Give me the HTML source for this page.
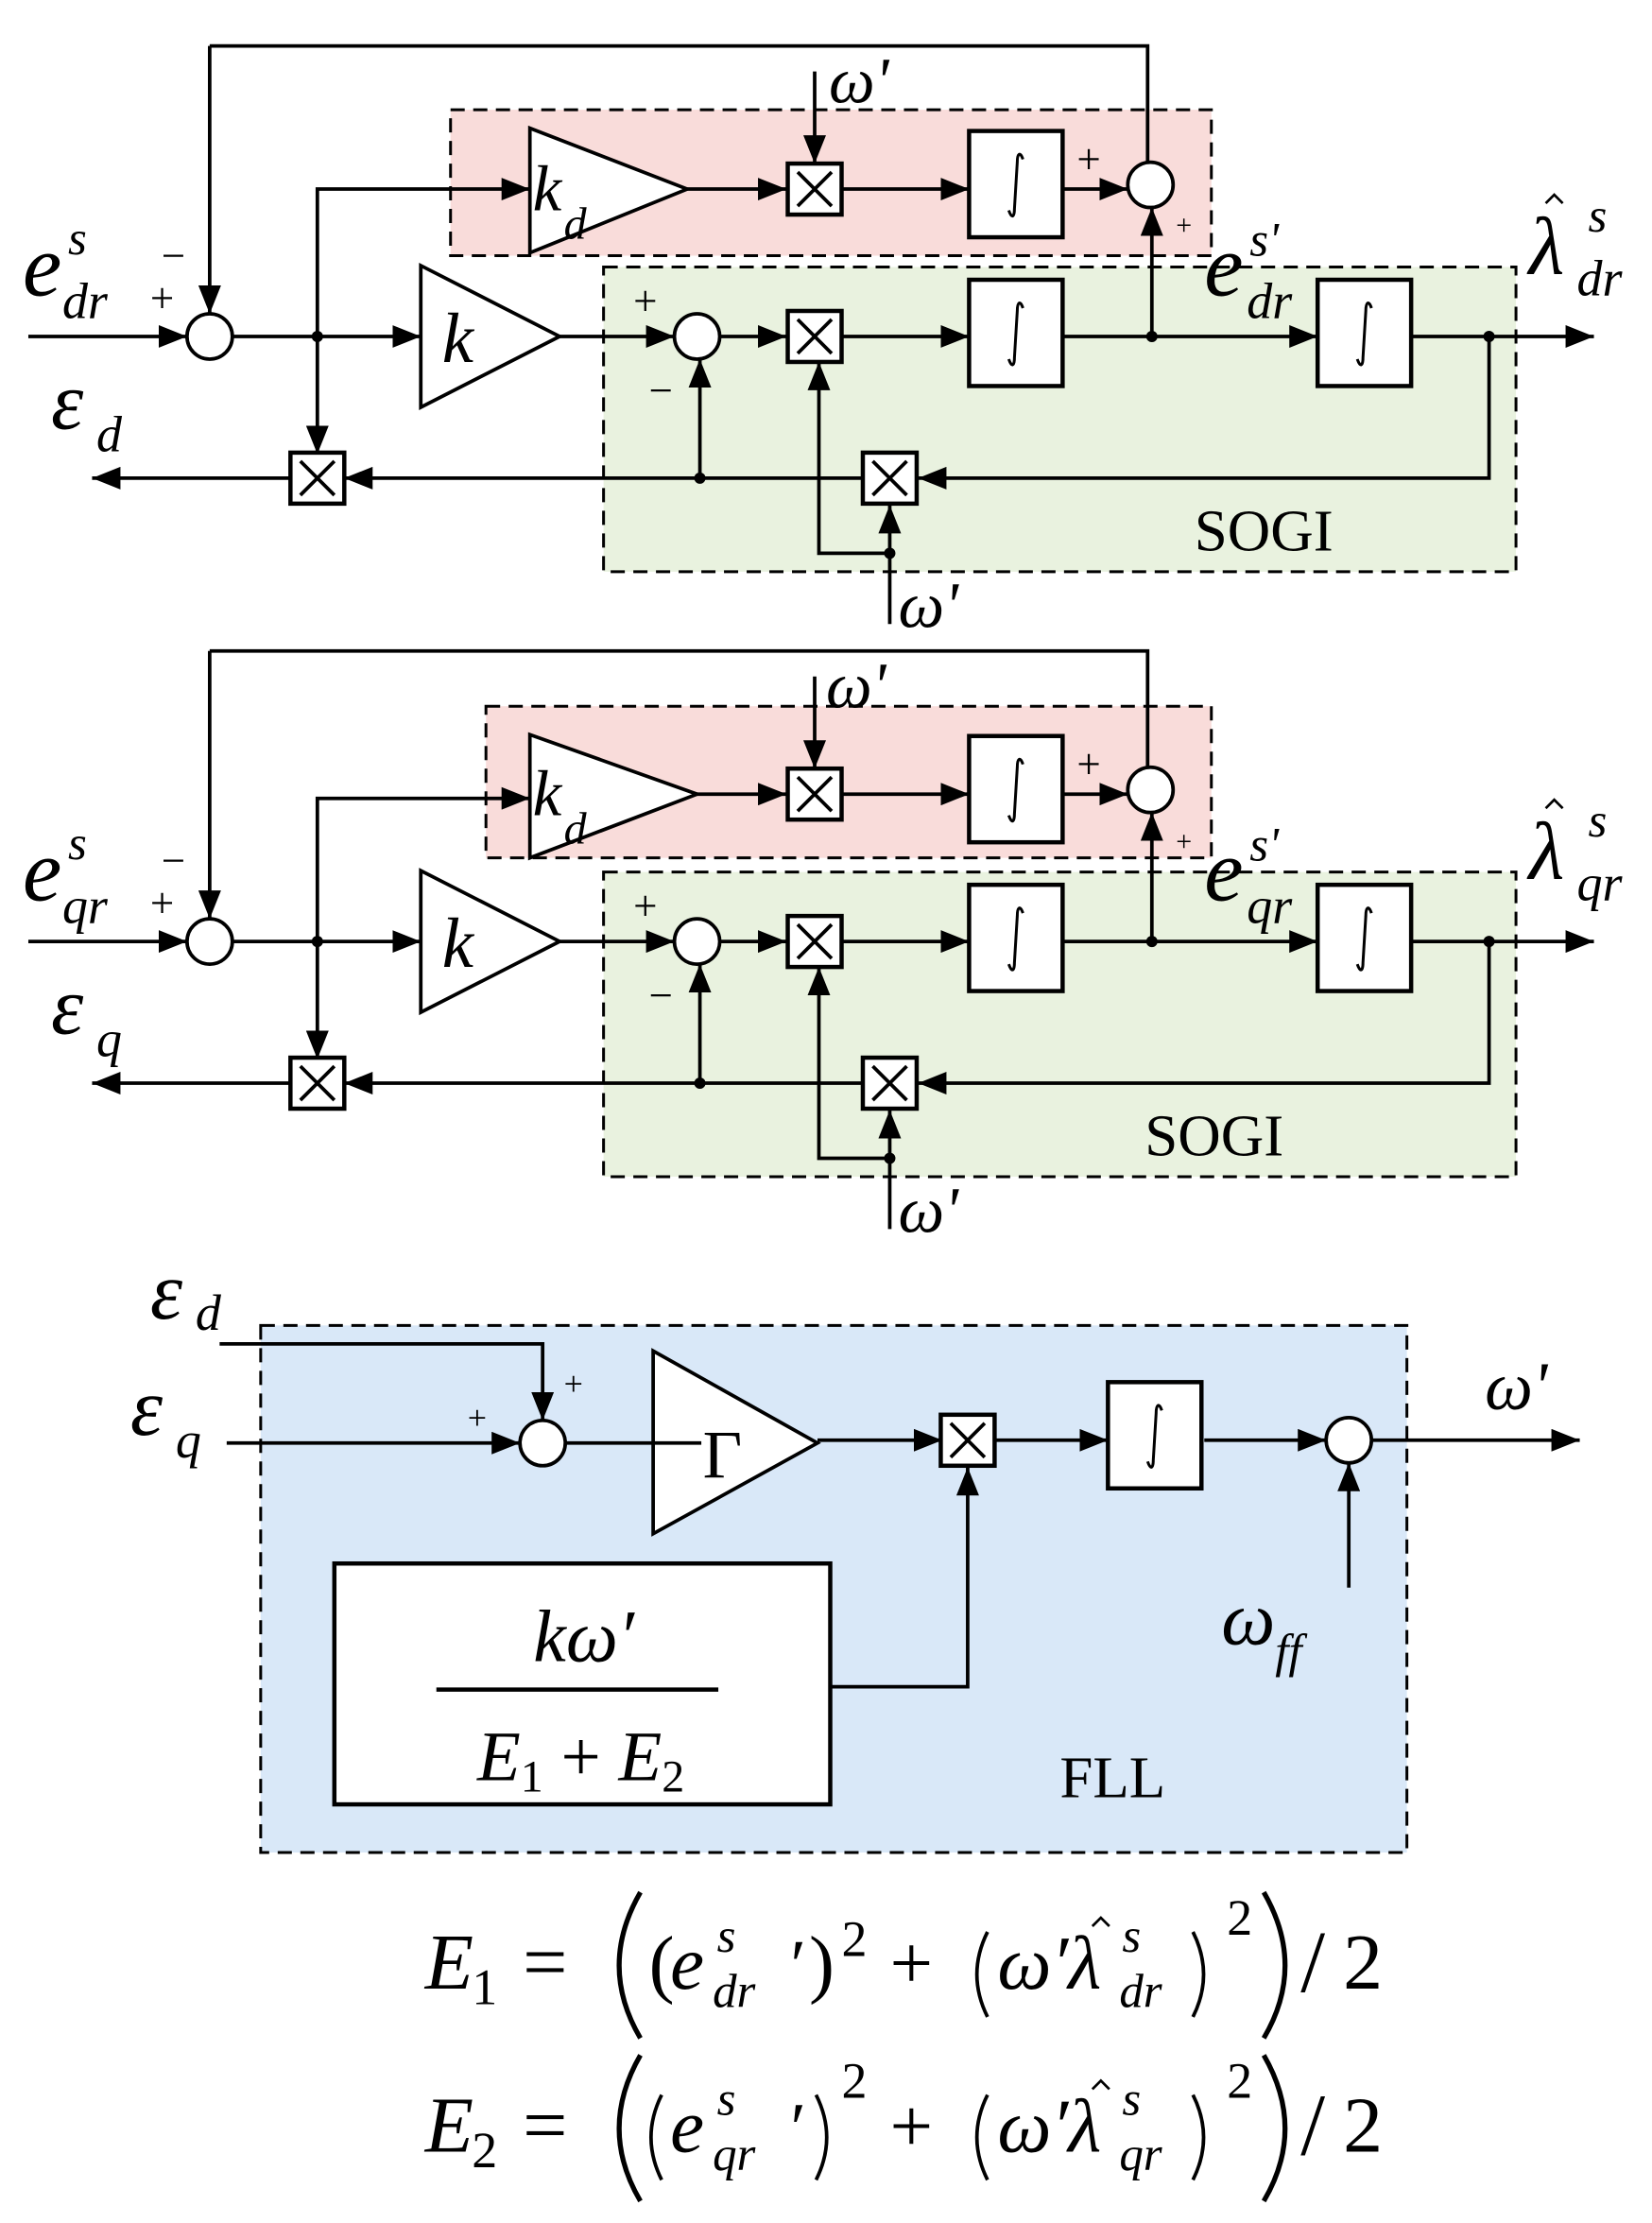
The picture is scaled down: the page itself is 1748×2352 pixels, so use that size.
<!DOCTYPE html>
<html><head><meta charset="utf-8"><style>
html,body{margin:0;padding:0;background:#fff}
svg{display:block}
text{font-family:"Liberation Serif",serif;fill:#000}
.it{font-style:italic}
</style></head><body>
<svg width="1748" height="2352" viewBox="0 0 1166 1568" xmlns="http://www.w3.org/2000/svg">
<defs>
<marker id="A" viewBox="0 0 10 10" refX="10" refY="5" markerWidth="20" markerHeight="16" orient="auto" markerUnits="userSpaceOnUse" preserveAspectRatio="none"><path d="M0,0L10,5L0,10z" fill="#000"/></marker>
<g id="mul"><rect x="-19" y="-18" width="38" height="36" fill="#fff" stroke="#000" stroke-width="3"/><path d="M-12,-12L12,12M12,-12L-12,12" stroke="#000" stroke-width="2.5"/></g>
<g id="int"><rect x="0" y="0" width="66" height="75" fill="#fff" stroke="#000" stroke-width="3"/><path d="M38,20C36,14 34,16 34,22L32,55C32,61 30,62 28,56" fill="none" stroke="#000" stroke-width="2"/></g>
<g id="hat"><path d="M-6,6L0,0L6,6" fill="none" stroke="#000" stroke-width="1.8"/></g>
<g id="sogi" stroke="#000" stroke-width="2.5" fill="none">
<rect x="426" y="188" width="644" height="215" fill="#e9f2df" stroke-dasharray="10,6" stroke-width="2"/>
<path d="M148,32H810V114" />
<path d="M148,32V221" marker-end="url(#A)"/>
<path d="M20,237H132" marker-end="url(#A)"/>
<circle cx="148" cy="237" r="16" fill="#fff"/>
<path d="M164,237H297" marker-end="url(#A)"/>
<path d="M224,237V320" marker-end="url(#A)"/>
<polygon points="297,187 297,287 395,237" fill="#fff"/>
<path d="M395,237H476" marker-end="url(#A)"/>
<circle cx="492" cy="237" r="16" fill="#fff"/>
<path d="M508,237H555" marker-end="url(#A)"/>
<path d="M595,237H684" marker-end="url(#A)"/>
<path d="M750,237H930" marker-end="url(#A)"/>
<path d="M813,237V146" marker-end="url(#A)"/>
<path d="M995,237H1125" marker-end="url(#A)"/>
<path d="M1051,237V337H648" marker-end="url(#A)"/>
<path d="M610,337H243" marker-end="url(#A)"/>
<path d="M205,337H65" marker-end="url(#A)"/>
<path d="M494,337V253" marker-end="url(#A)"/>
<path d="M628,390H578V255" marker-end="url(#A)"/>
<path d="M628,440V356" marker-end="url(#A)"/>
<path d="M575,50V115" marker-end="url(#A)"/>
<path d="M485,133H555" marker-end="url(#A)"/>
<path d="M595,133H684" marker-end="url(#A)"/>
<path d="M750,133H796" marker-end="url(#A)"/>
<circle cx="812" cy="130" r="16" fill="#fff"/>
<g fill="#000" stroke="none"><circle cx="224" cy="237" r="4"/><circle cx="813" cy="237" r="4"/><circle cx="1051" cy="237" r="4"/><circle cx="494" cy="337" r="4"/><circle cx="628" cy="390" r="4"/></g>
<use href="#mul" x="575" y="237"/><use href="#mul" x="575" y="133"/><use href="#mul" x="628" y="337"/><use href="#mul" x="224" y="337"/>
<use href="#int" x="684" y="197"/><use href="#int" x="930" y="197"/><use href="#int" x="684" y="92"/>
</g>
<g id="eq">
<text x="300" y="0" class="it" font-size="56">E</text><text x="369" y="0" font-size="56">=</text>
<text x="473" y="0" class="it" font-size="54">e</text><text x="506" y="-26" font-size="34" class="it">s</text>
<text x="558" y="0" font-size="50">′</text><text x="628" y="0" font-size="54">+</text>
<text x="704" y="0" class="it" font-size="54">ω′λ</text><use href="#hat" x="777" y="-50"/><text x="792" y="-26" font-size="34" class="it">s</text>
<text x="866" y="-38" font-size="36">2</text>
<text x="918" y="2" font-size="62">/</text><text x="948" y="0" font-size="56">2</text>
<g fill="none" stroke="#000">
<path d="M452,-68Q422,-16 452,35" stroke-width="3.5"/><path d="M892,-68Q922,-16 892,35" stroke-width="3.5"/>
<path d="M697,-40Q682,-10 697,20" stroke-width="2.5"/><path d="M842,-40Q857,-10 842,20" stroke-width="2.5"/>
</g>
</g>
</defs>

<!-- block 1 -->
<rect x="318" y="77" width="537" height="103" fill="#f9dcda" stroke="#000" stroke-dasharray="10,6" stroke-width="2"/>
<path d="M224,237V133H374" stroke="#000" stroke-width="2.5" fill="none" marker-end="url(#A)"/>
<use href="#sogi"/>
<polygon points="374,90 374,178 485,133" fill="#fff" stroke="#000" stroke-width="2.5"/>
<text x="376" y="148" font-size="46" class="it">k</text><text x="398" y="168" font-size="32" class="it">d</text>
<text x="312" y="255" font-size="50" class="it">k</text>
<text x="16" y="208" font-size="62" class="it">e</text><text x="48" y="179" font-size="34" class="it">s</text><text x="44" y="224" font-size="36" class="it">dr</text>
<text x="1079" y="193" font-size="58" class="it">λ</text><use href="#hat" x="1097" y="137"/><text x="1121" y="163" font-size="34" class="it">s</text><text x="1113" y="208" font-size="36" class="it">dr</text>
<text x="850" y="208" font-size="62" class="it">e</text><text x="882" y="180" font-size="34" class="it">s'</text><text x="880" y="224" font-size="36" class="it">dr</text>
<text x="36" y="302" font-size="58" class="it">ε</text><text x="68" y="318" font-size="36" class="it">d</text>
<text x="843" y="388" font-size="42">SOGI</text>
<text x="585" y="72" font-size="46" class="it">ω'</text>
<text x="634" y="442" font-size="46" class="it">ω'</text>
<g font-size="30"><text x="114" y="190">−</text><text x="106" y="220">+</text><text x="447" y="222">+</text><text x="458" y="285">−</text><text x="760" y="122">+</text><text x="830" y="165" font-size="20">+</text></g>

<!-- block 2 -->
<rect x="343" y="498" width="512" height="107" fill="#f9dcda" stroke="#000" stroke-dasharray="10,6" stroke-width="2"/>
<path d="M224,663V563H374" stroke="#000" stroke-width="2.5" fill="none" marker-end="url(#A)"/>
<use href="#sogi" y="427"/>
<polygon points="374,518 374,605 492,560" fill="#fff" stroke="#000" stroke-width="2.5"/>
<text x="376" y="575" font-size="46" class="it">k</text><text x="398" y="595" font-size="32" class="it">d</text>
<text x="312" y="682" font-size="50" class="it">k</text>
<text x="16" y="635" font-size="62" class="it">e</text><text x="48" y="606" font-size="34" class="it">s</text><text x="44" y="651" font-size="36" class="it">qr</text>
<text x="1079" y="620" font-size="58" class="it">λ</text><use href="#hat" x="1097" y="564"/><text x="1121" y="590" font-size="34" class="it">s</text><text x="1113" y="635" font-size="36" class="it">qr</text>
<text x="850" y="635" font-size="62" class="it">e</text><text x="882" y="607" font-size="34" class="it">s'</text><text x="880" y="651" font-size="36" class="it">qr</text>
<text x="36" y="729" font-size="58" class="it">ε</text><text x="68" y="745" font-size="36" class="it">q</text>
<text x="808" y="815" font-size="42">SOGI</text>
<text x="583" y="499" font-size="46" class="it">ω'</text>
<text x="634" y="869" font-size="46" class="it">ω'</text>
<g font-size="30"><text x="114" y="617">−</text><text x="106" y="647">+</text><text x="447" y="649">+</text><text x="458" y="712">−</text><text x="760" y="549">+</text><text x="830" y="600" font-size="20">+</text></g>

<!-- FLL -->
<rect x="184" y="935" width="809" height="372" fill="#d9e8f8" stroke="#000" stroke-dasharray="10,6" stroke-width="2"/>
<g stroke="#000" stroke-width="2.5" fill="none">
<path d="M155,948H383V1002" marker-end="url(#A)"/>
<path d="M160,1018H367" marker-end="url(#A)"/>
<circle cx="383" cy="1018" r="16" fill="#fff"/>
<polygon points="461,953 461,1082 577,1018" fill="#fff"/>
<path d="M399,1018H495"/>
<path d="M577,1016H665" marker-end="url(#A)"/>
<path d="M702,1016H782" marker-end="url(#A)"/>
<path d="M850,1016H936" marker-end="url(#A)"/>
<circle cx="952" cy="1016" r="16" fill="#fff"/>
<path d="M968,1016H1115" marker-end="url(#A)"/>
<path d="M952,1120V1032" marker-end="url(#A)"/>
<path d="M586,1190H683V1035" marker-end="url(#A)"/>
<rect x="236" y="1103" width="350" height="170" fill="#fff" stroke-width="3"/>
<path d="M308,1192H507" stroke-width="3"/>
</g>
<use href="#mul" x="683" y="1016"/>
<use href="#int" x="782" y="975"/>
<text x="496" y="1042" font-size="48">Γ</text>
<text x="106" y="930" font-size="58" class="it">ε</text><text x="138" y="938" font-size="36" class="it">d</text>
<text x="92" y="1012" font-size="58" class="it">ε</text><text x="124" y="1028" font-size="36" class="it">q</text>
<g font-size="24"><text x="330" y="1008">+</text><text x="398" y="984">+</text></g>
<text x="1048" y="994" font-size="48" class="it">ω'</text>
<text x="862" y="1160" font-size="54" class="it">ω</text><text x="900" y="1176" font-size="34" class="it">ff</text>
<text x="412" y="1172" font-size="52" text-anchor="middle" class="it">kω′</text>
<text x="410" y="1256" font-size="50" text-anchor="middle"><tspan class="it">E</tspan><tspan font-size="32" dy="8">1</tspan><tspan dy="-8"> + </tspan><tspan class="it">E</tspan><tspan font-size="32" dy="8">2</tspan></text>
<text x="748" y="1268" font-size="42">FLL</text>

<!-- equations -->
<use href="#eq" y="1403"/>
<use href="#eq" y="1518"/>
<text x="333" y="1414" font-size="36">1</text>
<text x="333" y="1529" font-size="36">2</text>
<text x="458" y="1403" font-size="54">(</text><text x="571" y="1403" font-size="54">)</text><text x="594" y="1380" font-size="36">2</text>
<text x="503" y="1416" font-size="34" class="it">dr</text><text x="790" y="1416" font-size="34" class="it">dr</text>
<g fill="none" stroke="#000" stroke-width="2.5"><path d="M467,1478Q452,1508 467,1538"/><path d="M576,1478Q591,1508 576,1538"/></g>
<text x="594" y="1480" font-size="36">2</text>
<text x="503" y="1531" font-size="34" class="it">qr</text><text x="790" y="1531" font-size="34" class="it">qr</text>
</svg>
</body></html>
